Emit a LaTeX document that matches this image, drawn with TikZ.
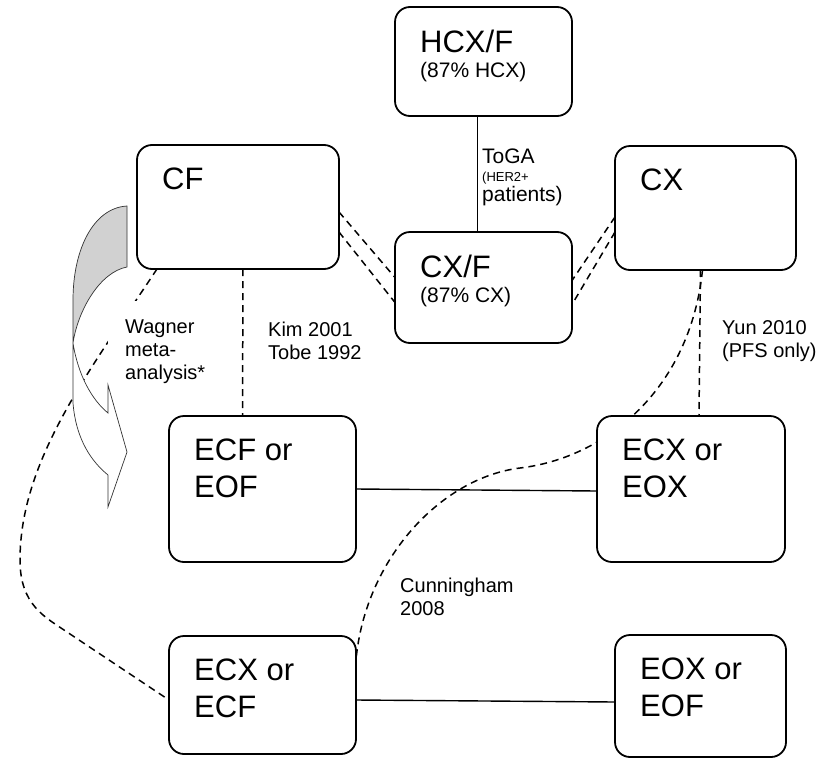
\documentclass[tikz,border=0pt]{standalone}
\usepackage{fontspec}
\setmainfont{Liberation Sans}
\usetikzlibrary{calc}
\pgfdeclarelayer{bg}
\pgfsetlayers{bg,main}
\newcommand\subsize{\fontsize{21}{25}\selectfont}
% one line of fixed height and depth, for stacking lines of mixed sizes
\newcommand\fixedline[3]{\hbox{\vrule height#1 depth#2 width0pt\smash{#3}}}
\begin{document}
\begin{tikzpicture}[x=1pt,y=-1pt,
  box/.style={draw, line width=1.8pt, rounded corners=15pt, fill=white,
    inner sep=0pt, outer sep=0pt, anchor=north west},
  boxtext/.style={anchor=north west, inner sep=0pt, align=left,
    font=\fontsize{31}{37}\selectfont, xshift=25pt, yshift=-23pt},
  note/.style={anchor=north west, inner sep=0pt, align=left,
    font=\fontsize{20}{23}\selectfont},
  solid link/.style={line width=1.4pt},
  dlink/.style={line width=1.5pt, dash pattern=on 7pt off 5pt},
  arrowface/.style={line width=0.7pt, draw=black!80}
]
\useasboundingbox (0,0) rectangle (838,763);

% treatment regimens
\node[box, minimum width=177pt, minimum height=109pt,
  label={[boxtext]north west:{HCX/F\\[-12pt]{\subsize (87\% HCX)}}}] (hcx) at (395,7) {};
\node[box, minimum width=202pt, minimum height=124pt,
  label={[boxtext]north west:{CF}}] (cf) at (137,145) {};
\node[box, minimum width=177pt, minimum height=111pt,
  label={[boxtext]north west:{CX/F\\[-12pt]{\subsize (87\% CX)}}}] (cxf) at (395,232) {};
\node[box, minimum width=181pt, minimum height=124pt,
  label={[boxtext]north west:{CX}}] (cx) at (615,146) {};
\node[box, minimum width=187pt, minimum height=146pt,
  label={[boxtext]north west:{ECF or\\EOF}}] (ecf) at (169,416) {};
\node[box, minimum width=188pt, minimum height=146pt,
  label={[boxtext]north west:{ECX or\\EOX}}] (ecx) at (597,416) {};
\node[box, minimum width=187pt, minimum height=118pt,
  label={[boxtext]north west:{ECX or\\ECF}}] (ecxf) at (169,636) {};
\node[box, minimum width=171pt, minimum height=122pt,
  label={[boxtext]north west:{EOX or\\EOF}}] (eoxf) at (615,635) {};

% trial labels
\node[anchor=north west, inner sep=0pt] (toga) at (482,148) {\vbox{\offinterlineskip
  \fixedline{15pt}{6pt}{\fontsize{21}{24}\selectfont ToGA}
  \fixedline{12pt}{4pt}{\fontsize{13}{15}\selectfont (HER2+}
  \fixedline{16pt}{5pt}{\fontsize{21}{24}\selectfont patients)}}};
\node[note] (kim) at (268,321.7) {Kim 2001\\Tobe 1992};
\node[note] (yun) at (722,320.7) {Yun 2010\\(PFS only)};
\node[note] (cunn) at (400,577.5) {Cunningham\\2008};
\node[note, fill=white, inner xsep=17pt, inner ysep=19pt] (wagner) at (108,301)
  {Wagner\\meta-\\analysis*};

% comparisons
\begin{pgfonlayer}{bg}
\draw[solid link] ([xshift=-6pt]hcx.south) -- ([xshift=-6pt]cxf.north);
\draw[solid link] (ecf.east) -- ([yshift=-2pt]ecx.west);
\draw[solid link] ([yshift=-5pt]ecxf.east) -- ([yshift=-6pt]eoxf.west);
\draw[dlink] ([yshift=-5pt]cf.east) -- ([yshift=10pt]cxf.west);
\draw[dlink] ([yshift=-25pt]cf.east) -- ([yshift=-15pt]cxf.west);
\draw[dlink] ([yshift=-9pt]cx.west) -- ([yshift=7pt]cxf.east);
\draw[dlink] ([yshift=-24pt]cx.west) -- ([yshift=-17pt]cxf.east);
\draw[dlink] ([xshift=5pt]cf.south) -- ([xshift=-20pt]ecf.north);
\draw[dlink] ([xshift=-5pt]cx.south) -- ([xshift=8pt]ecx.north);
\draw[dlink] ([xshift=-3pt]cx.south) .. controls (690,390) and (605,458) .. (520,468)
  .. controls (440,478) and (365,560) .. ([yshift=35pt]ecxf.east);
\draw[dlink] ([xshift=20pt]cf.south west) .. controls (90,370) and (20,460) .. (20,560)
  .. controls (20,605) and (45,617) .. (67,632) -- ([yshift=-5pt]ecxf.west);
\end{pgfonlayer}

% curved arrow from CF towards ECF/EOF
\filldraw[arrowface, fill=black!18] (127,206) .. controls (93,208) and (73,250) .. (73,300)
  -- (73,343) .. controls (78,310) and (100,272) .. (127,267) -- cycle;
\filldraw[arrowface, fill=white] (73,343) -- (73,403) .. controls (76,440) and (92,462) .. (108,475)
  -- (108,507) -- (127,452) -- (108,385) -- (108,413)
  .. controls (92,400) and (78,375) .. (73,343) -- cycle;
\end{tikzpicture}
\end{document}
